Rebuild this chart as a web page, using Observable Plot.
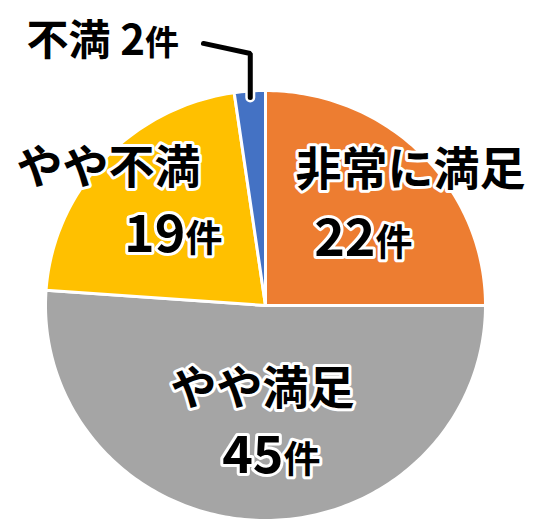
<!DOCTYPE html>
<html><head><meta charset="utf-8">
<script src="https://cdn.jsdelivr.net/npm/d3@7"></script>
<script src="https://cdn.jsdelivr.net/npm/@observablehq/plot@0.6"></script>
<style>
html,body{margin:0;padding:0;background:#fff;overflow:hidden;}
#chart svg{overflow:visible;display:block;}
</style></head>
<body><div id="chart"></div>
<script>
// ---- data ----
const categories = ["非常に満足", "やや満足", "やや不満", "不満"];
const counts = [22, 45, 19, 2];
const unit = "件";
const colors = ["#ED7D31", "#A5A5A5", "#FFC000", "#4472C4"];

// ---- slice geometry (unit circle, clockwise from 12 o'clock) ----
const arcs = d3.pie().sort(null).value(d => d)(counts);
const sliceRows = [];
arcs.forEach((a, i) => {
  const cat = categories[i];
  sliceRows.push({cat, x: 0, y: 0});
  const n = Math.max(4, Math.ceil((a.endAngle - a.startAngle) / (Math.PI / 180)));
  for (let k = 0; k <= n; k++) {
    const t = a.startAngle + (a.endAngle - a.startAngle) * k / n;
    sliceRows.push({cat, x: Math.sin(t), y: Math.cos(t)});
  }
  sliceRows.push({cat, x: 0, y: 0});
});

// ---- label layout (data units), kept apart from the data ----
const layout = [
  {name: [0.659, 0.628], num: [0.50, 0.228]},
  {name: [-0.014, -0.39], num: [0.082, -0.777]},
  {name: [-0.714, 0.64], num: [-0.364, 0.247]}
];
const bigRows = [0, 1, 2].map(i => ({
  name: categories[i], n: String(counts[i]),
  nx: layout[i].name[0], ny: layout[i].name[1],
  vx: layout[i].num[0], vy: layout[i].num[1]
}));
// small slice: outside label with leader line
const smallIdx = 3;
const sa = arcs[smallIdx];
const mid = (sa.startAngle + sa.endAngle) / 2;
const tip = {x: Math.sin(mid) * 0.97, y: Math.cos(mid) * 0.97};
const leader = [
  {x: -0.282, y: 1.219},
  {x: tip.x, y: 1.172},
  {x: tip.x, y: tip.y}
];
const smallLabel = [{t: categories[smallIdx] + " " + counts[smallIdx], x: -0.548, y: 1.163}];

const font = "'Noto Sans CJK JP', 'Noto Sans', sans-serif";
const halo = {stroke: "white", strokeWidth: 6, fill: "black", fontWeight: 700, fontFamily: font, strokeLinejoin: "round"};

const plot = Plot.plot({
  width: 538, height: 520,
  marginTop: 0, marginBottom: 0, marginLeft: 0, marginRight: 0,
  x: {domain: [-1, 1], range: [45, 485], axis: null},
  y: {domain: [-1, 1], range: [520, 90], axis: null},
  color: {domain: categories, range: colors},
  style: {background: "white"},
  marks: [
    Plot.line(sliceRows, {x: "x", y: "y", z: "cat", fill: "cat", stroke: "white", strokeWidth: 3, strokeLinejoin: "round"}),
    Plot.line(leader, {x: "x", y: "y", stroke: "white", strokeWidth: 10, strokeLinejoin: "miter"}),
    Plot.line(leader, {x: "x", y: "y", stroke: "black", strokeWidth: 5, strokeLinejoin: "miter"}),
    Plot.text(bigRows, {x: "nx", y: "ny", text: "name", fontSize: 46, textAnchor: "middle", lineAnchor: "middle", ...halo}),
    Plot.text(bigRows, {x: "vx", y: "vy", text: "n", fontSize: 52, textAnchor: "end", lineAnchor: "bottom", ...halo}),
    Plot.text(bigRows, {x: "vx", y: "vy", text: () => unit, fontSize: 37, textAnchor: "start", lineAnchor: "bottom", ...halo}),
    Plot.text(smallLabel, {x: "x", y: "y", text: "t", fontSize: 42, textAnchor: "end", lineAnchor: "bottom", ...halo}),
    Plot.text(smallLabel, {x: "x", y: "y", text: () => unit, fontSize: 34, textAnchor: "start", lineAnchor: "bottom", ...halo})
  ]
});
document.getElementById("chart").appendChild(plot);
</script>
</body></html>
